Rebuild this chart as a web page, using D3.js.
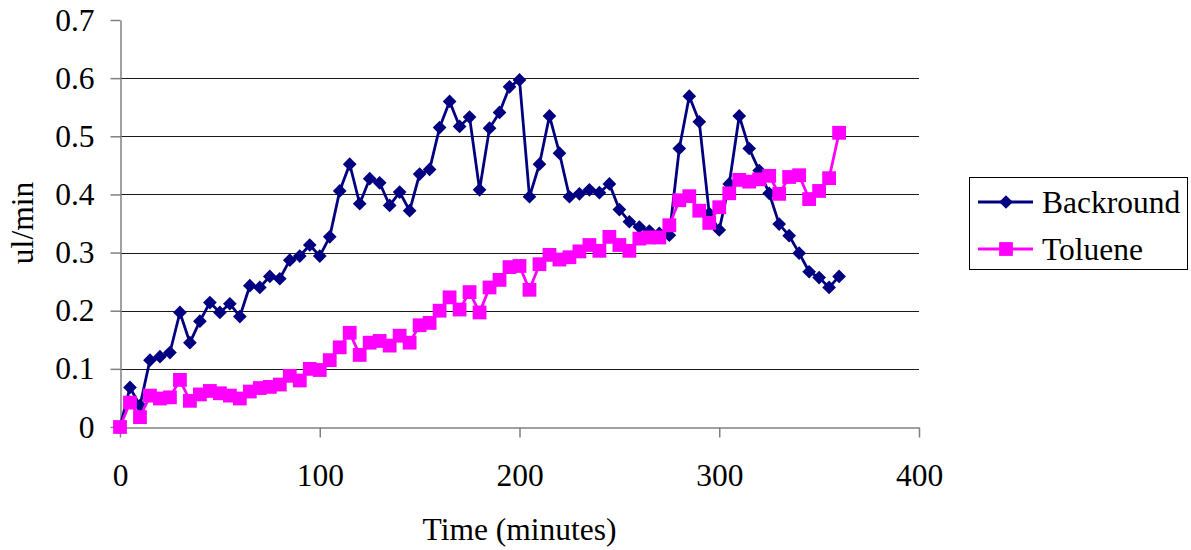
<!DOCTYPE html>
<html>
<head>
<meta charset="utf-8">
<script src="https://cdn.jsdelivr.net/npm/d3@7"></script>
<style>
  body { margin: 0; background: #fff; }
  svg text { font-family: "Liberation Serif", "Times New Roman", serif; fill: #000; }
</style>
</head>
<body>
<svg id="chart" width="1191" height="550"></svg>
<script>
// time in minutes, one sample every 5 minutes
const times = d3.range(0, 361, 5);

const backround = [
  0, 0.068, 0.037, 0.115, 0.121, 0.128, 0.197, 0.145, 0.182, 0.214,
  0.197, 0.212, 0.190, 0.243, 0.240, 0.259, 0.255, 0.287, 0.294, 0.313,
  0.294, 0.327, 0.406, 0.452, 0.384, 0.427, 0.420, 0.381, 0.404, 0.372,
  0.435, 0.443, 0.515, 0.560, 0.517, 0.533, 0.408, 0.514, 0.541, 0.585,
  0.597, 0.396, 0.452, 0.535, 0.471, 0.396, 0.401, 0.408, 0.403, 0.418,
  0.374, 0.353, 0.344, 0.337, 0.333, 0.330, 0.479, 0.569, 0.525, 0.367,
  0.339, 0.418, 0.535, 0.479, 0.441, 0.402, 0.349, 0.329, 0.299, 0.267,
  0.257, 0.240, 0.259
];

const toluene = [
  0, 0.042, 0.017, 0.054, 0.049, 0.051, 0.081, 0.045, 0.056, 0.062,
  0.058, 0.054, 0.049, 0.061, 0.067, 0.069, 0.073, 0.088, 0.080, 0.100,
  0.098, 0.115, 0.137, 0.162, 0.124, 0.145, 0.148, 0.140, 0.157, 0.145,
  0.175, 0.179, 0.200, 0.223, 0.202, 0.232, 0.197, 0.240, 0.253, 0.275,
  0.277, 0.236, 0.280, 0.296, 0.288, 0.292, 0.302, 0.313, 0.303, 0.327,
  0.313, 0.303, 0.324, 0.326, 0.326, 0.347, 0.390, 0.397, 0.372, 0.351,
  0.378, 0.402, 0.425, 0.422, 0.426, 0.432, 0.401, 0.430, 0.433, 0.392,
  0.406, 0.428, 0.506
];

const xTicks = [0, 100, 200, 300, 400];
const yTicks = [0, 0.1, 0.2, 0.3, 0.4, 0.5, 0.6, 0.7];
const gridTicks = [0.1, 0.2, 0.3, 0.4, 0.5, 0.6];

const series = [
  { name: "Backround", values: backround, color: "#000080", symbol: d3.symbolDiamond2, size: 120 },
  { name: "Toluene", values: toluene, color: "#ff00ff", symbol: d3.symbolSquare, size: 190 }
];

const svg = d3.select("#chart");
const plotLeft = 120, plotRight = 919, plotTop = 20, plotBottom = 427;
const fontSize = 31.5;

const x = d3.scaleLinear().domain([0, 400]).range([plotLeft, plotRight]);
const y = d3.scaleLinear().domain([0, 0.7]).range([plotBottom, plotTop]);

// horizontal gridlines
svg.append("g")
  .selectAll("line")
  .data(gridTicks)
  .enter()
  .append("line")
  .attr("x1", plotLeft)
  .attr("x2", plotRight)
  .attr("y1", d => Math.round(y(d)) + 0.5)
  .attr("y2", d => Math.round(y(d)) + 0.5)
  .attr("stroke", "#1a1a1a")
  .attr("stroke-width", 1);

// axes
const yAxis = svg.append("g")
  .attr("transform", `translate(${plotLeft + 0.5},0)`)
  .call(d3.axisLeft(y).tickValues(yTicks).tickSize(10).tickSizeOuter(0).tickPadding(16)
    .tickFormat(d => d === 0 ? "0" : d3.format(".1f")(d)));

const xAxis = svg.append("g")
  .attr("transform", `translate(0,${plotBottom + 0.5})`)
  .call(d3.axisBottom(x).tickValues(xTicks).tickSize(10).tickSizeOuter(0).tickPadding(26));

[yAxis, xAxis].forEach(ax => {
  ax.select(".domain").attr("stroke", "#808080").attr("stroke-width", 1.5);
  ax.selectAll(".tick line").attr("stroke", "#808080").attr("stroke-width", 1.5);
  ax.selectAll(".tick text")
    .style("font-size", fontSize + "px")
    .style("font-family", "'Liberation Serif', 'Times New Roman', serif")
    .attr("fill", "#000");
});

// axis titles
svg.append("text")
  .attr("x", (plotLeft + plotRight) / 2)
  .attr("y", 540)
  .attr("text-anchor", "middle")
  .style("font-size", fontSize + "px")
  .text("Time (minutes)");

svg.append("text")
  .attr("transform", "translate(33,223) rotate(-90)")
  .attr("text-anchor", "middle")
  .style("font-size", fontSize + "px")
  .text("ul/min");

// lines and markers
const line = d3.line()
  .x((d, i) => x(times[i]))
  .y(d => y(d));

series.forEach(s => {
  const g = svg.append("g");
  g.append("path")
    .datum(s.values)
    .attr("d", line)
    .attr("fill", "none")
    .attr("stroke", s.color)
    .attr("stroke-width", 2.8);

  g.selectAll("path.marker")
    .data(s.values)
    .enter()
    .append("path")
    .attr("class", "marker")
    .attr("d", d3.symbol().type(s.symbol).size(s.size))
    .attr("transform", (d, i) => `translate(${x(times[i])},${y(d)})`)
    .attr("fill", s.color);
});

// legend
const legend = svg.append("g");
legend.append("rect")
  .attr("x", 969.5)
  .attr("y", 177.5)
  .attr("width", 218)
  .attr("height", 92)
  .attr("fill", "#fff")
  .attr("stroke", "#000")
  .attr("stroke-width", 1);

const rowY = [202, 249];
series.forEach((s, i) => {
  legend.append("line")
    .attr("x1", 978).attr("x2", 1033)
    .attr("y1", rowY[i]).attr("y2", rowY[i])
    .attr("stroke", s.color)
    .attr("stroke-width", 2.8);
  legend.append("path")
    .attr("d", d3.symbol().type(s.symbol).size(s.size))
    .attr("transform", `translate(1006,${rowY[i]})`)
    .attr("fill", s.color);
  legend.append("text")
    .attr("x", 1042)
    .attr("y", rowY[i])
    .attr("dy", "0.35em")
    .style("font-size", fontSize + "px")
    .text(s.name);
});
</script>
</body>
</html>
